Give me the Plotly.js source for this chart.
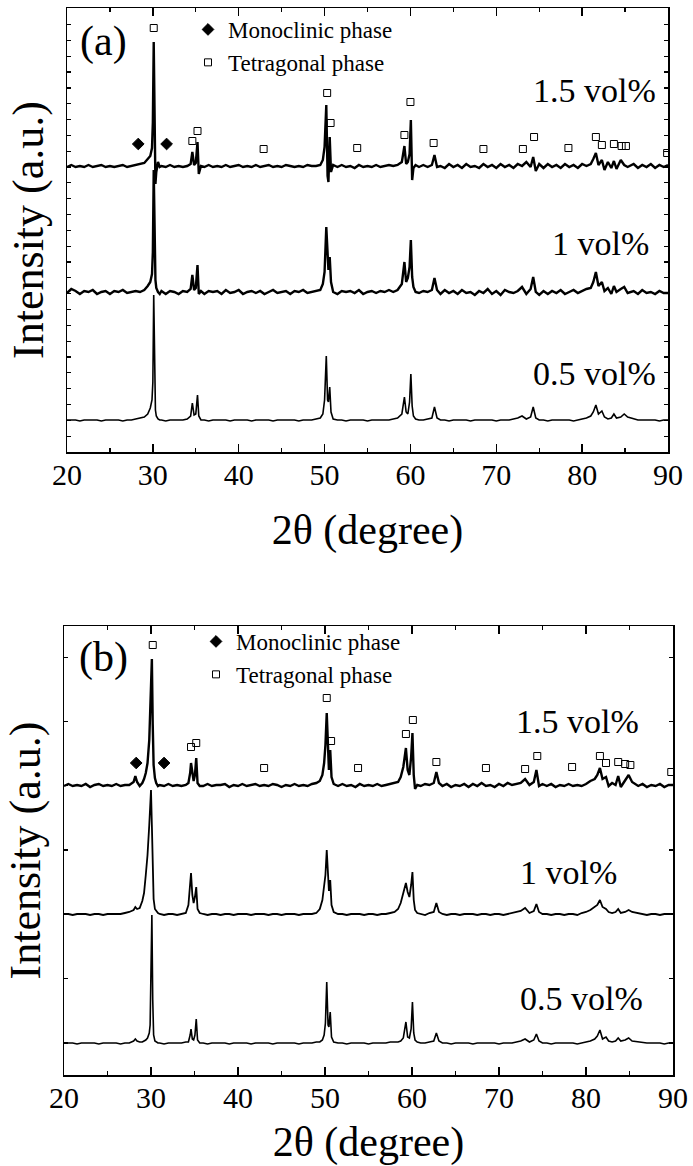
<!DOCTYPE html>
<html>
<head>
<meta charset="utf-8">
<script src="https://cdn.plot.ly/plotly-3.0.1.min.js"></script>
<style>html,body{margin:0;padding:0;background:#fff;}#chart{width:693px;height:1166px;}</style>
</head>
<body>
<div id="chart"></div>
<script>
// ---------- Panel (a) ----------
const xa = [20,20.5,21,21.5,22,22.5,23,23.5,24,24.5,25,25.5,26,26.5,27,27.5,28,28.5,29,
  29.4,29.7,29.9,30.0,30.1,30.2,30.3,30.4,30.6,30.8,
  31,31.5,32,32.5,33,33.5,34,
  34.4,34.6,34.8,35.0,35.2,35.35,35.6,
  36,36.5,37,37.5,38,38.5,39,39.5,40,40.5,41,41.5,42,42.5,43,43.5,44,44.5,45,45.5,46,46.5,47,47.5,48,48.5,49,49.5,
  49.8,50.0,50.2,50.35,50.45,50.6,50.75,51.0,
  51.5,52,52.5,53,53.5,54,54.5,55,55.5,56,56.5,57,57.5,58,58.5,
  59.0,59.3,59.5,59.7,59.9,60.05,60.2,60.35,60.6,
  61,61.5,62,62.5,
  62.8,63.1,
  63.5,64,64.5,65,65.5,66,66.5,67,67.5,68,68.5,69,69.5,70,70.5,71,71.5,72,72.5,
  73.0,73.5,74.0,74.3,74.6,75,
  75.5,76,76.5,77,77.5,78,78.5,79,79.5,80,80.5,81,
  81.3,81.6,81.9,82.3,82.6,83.0,83.4,83.7,84.0,84.5,84.9,85.3,
  86,86.5,87,87.5,88,88.5,89,89.5,90];

const a_05 = [32,32,32,31,32,32,32,32,31,32,32,32,32,31,32,32,33,34,35,
  38,44,52,70,157,95,42,36,33,32,
  32,31,32,32,32,32,33,
  36,49,37,38,57,36,32,
  32,31,32,32,32,32,31,32,32,32,32,31,32,32,32,32,31,32,32,32,32,32,31,32,32,32,33,34,
  38,52,96,52,50,65,40,33,
  32,32,31,32,32,32,32,31,32,32,32,32,32,33,34,
  38,55,40,38,50,78,46,36,33,
  32,32,33,34,
  45,34,
  32,32,31,32,32,32,32,31,32,32,32,32,32,31,32,32,32,33,34,
  36,33,35,45,34,32,
  32,31,32,32,32,32,32,31,32,33,34,36,
  40,47,38,41,35,33,34,38,34,35,38,35,
  33,32,32,32,32,32,31,32,32];

const a_10 = [159,163,161,158,161,160,162,158,160,161,158,161,160,162,159,160,161,160,162,
  166,170,178,200,282,200,172,164,160,158,
  161,158,161,160,158,161,160,
  163,177,162,164,187,158,161,
  158,161,160,161,158,162,159,160,162,158,160,161,159,161,158,160,162,159,160,161,158,161,160,162,159,160,161,162,
  168,180,225,188,182,195,170,160,
  158,161,160,161,159,162,158,160,161,159,161,160,162,160,162,
  168,190,170,174,185,212,175,165,160,
  159,161,160,162,
  174,162,
  158,162,159,161,158,162,159,160,157,161,159,163,158,161,157,162,160,159,161,
  165,158,163,175,160,157,
  161,158,161,159,162,158,160,162,159,161,163,164,
  170,180,166,170,161,164,158,166,160,163,165,159,
  161,158,162,159,160,158,161,159,159];

const a_15 = [285,287,285,286,285,287,285,286,287,285,286,285,286,287,285,286,287,288,289,
  293,296,304,330,410,300,268,280,290,285,
  286,285,287,285,286,285,286,
  288,300,287,289,310,278,286,
  285,287,285,286,285,287,285,286,287,285,286,285,287,285,286,287,285,286,285,287,286,285,286,285,287,286,286,287,
  292,305,347,276,270,315,280,287,
  285,287,285,286,284,287,285,286,285,287,285,286,287,286,287,
  290,306,288,290,298,332,272,284,287,
  285,287,285,287,
  297,285,
  286,284,288,285,287,284,288,285,286,284,288,285,287,284,288,285,287,284,288,
  286,290,285,295,281,288,
  284,288,285,287,284,288,285,287,284,288,286,288,
  293,299,287,292,282,290,284,291,283,292,287,285,
  288,284,287,285,288,284,287,285,287];

const a_mono_x = [28.3, 31.6];
const a_mono_y = [308, 308];
const a_tet_x = [30.1,34.6,35.2,42.9,50.3,50.7,53.8,59.3,60.0,62.7,68.5,73.1,74.4,78.4,81.6,82.3,83.7,84.6,85.1,89.9];
const a_tet_y = [424,311,321,303,359,329,304,317,350,309,303,303,315,304,315,307,308,306,306,299];

// ---------- Panel (b) ----------
const xb = [20,20.5,21,21.5,22,22.5,23,23.5,24,24.5,25,25.5,26,26.5,27,27.5,
  28.0,28.2,28.4,28.7,29.0,29.2,29.4,29.6,29.8,29.9,30.0,30.1,30.2,30.3,30.45,30.6,30.8,
  31,31.5,32,32.5,33,33.5,34,
  34.3,34.5,34.6,34.75,34.9,35.05,35.2,35.35,35.6,
  36,36.5,37,37.5,38,38.5,39,39.5,40,40.5,41,41.5,42,42.5,43,43.5,44,44.5,45,45.5,46,46.5,47,47.5,48,48.5,49,
  49.4,49.7,49.9,50.05,50.2,50.35,50.45,50.6,50.75,51.0,
  51.5,52,52.5,53,53.5,54,54.5,55,55.5,56,56.5,57,57.5,58,
  58.4,58.7,59.0,59.3,59.5,59.7,59.9,60.05,60.2,60.35,60.6,
  61,61.5,62,62.5,
  62.8,63.1,
  63.5,64,64.5,65,65.5,66,66.5,67,67.5,68,68.5,69,69.5,70,70.5,71,71.5,72,72.5,
  73.0,73.5,74.0,74.3,74.6,75,
  75.5,76,76.5,77,77.5,78,78.5,79,79.5,80,80.5,81,
  81.3,81.6,81.9,82.3,82.6,83.0,83.4,83.7,84.0,84.5,84.9,85.3,
  86,86.5,87,87.5,88,88.5,89,89.5,90];

const b_05 = [32,32,32,31,32,32,32,32,31,32,32,32,32,31,32,32,
  34,36,34,33,33,34,35,37,42,50,90,160,75,40,34,33,32,
  32,31,32,32,32,32,33,
  33,40,46,36,35,40,56,35,32,
  32,31,32,32,32,32,31,32,32,32,32,31,32,32,32,32,31,32,32,32,32,32,31,32,32,32,33,
  33,35,40,52,93,50,48,63,38,33,
  32,32,31,32,32,32,32,31,32,32,32,32,33,33,
  33,34,37,53,38,37,46,73,42,35,33,
  32,32,33,34,
  42,34,
  32,32,31,32,32,32,32,31,32,32,32,32,32,31,32,32,32,33,34,
  36,33,35,41,34,32,
  32,31,32,32,32,32,32,31,32,33,34,36,
  39,45,36,38,34,33,34,37,34,35,37,34,
  33,32,32,32,32,32,31,32,32];

const b_10 = [161,161,160,161,161,161,160,161,161,160,161,161,161,161,162,163,
  165,168,166,167,174,182,200,220,250,268,285,250,200,176,166,164,162,
  161,160,161,161,160,161,162,
  170,192,202,180,172,178,188,166,162,
  161,160,161,161,160,161,161,160,161,161,161,160,161,161,161,160,161,161,160,161,161,161,160,161,161,161,162,
  166,175,192,200,225,190,184,195,170,163,
  161,161,160,161,161,161,160,161,161,160,161,161,162,163,
  166,172,182,192,183,178,190,203,175,165,162,
  161,160,162,163,
  172,163,
  161,160,161,161,160,161,161,161,160,161,161,160,161,161,160,161,162,163,164,
  167,162,164,171,163,161,
  161,160,161,161,160,161,161,160,162,163,165,168,
  170,175,168,166,163,162,163,166,162,163,165,163,
  162,161,160,161,161,160,161,161,161];

const b_15 = [289,291,289,290,289,291,288,290,291,289,290,289,291,289,290,290,
  293,299,293,289,292,296,302,312,335,360,400,416,350,310,297,292,289,
  290,289,291,289,290,289,290,
  292,302,312,300,294,300,317,292,289,
  289,291,289,290,290,291,288,290,289,291,289,290,291,289,290,289,291,290,288,290,289,291,289,290,289,291,292,
  294,300,312,330,362,315,305,325,298,291,
  289,291,289,290,288,291,289,290,289,291,289,290,291,292,
  293,298,308,327,305,300,318,342,300,286,290,
  289,291,290,292,
  303,292,
  289,291,288,290,289,291,288,291,289,292,289,290,288,291,289,292,290,291,292,
  296,290,293,305,289,291,
  289,291,288,290,289,291,289,290,289,291,294,296,
  300,307,296,298,289,292,290,299,288,294,300,293,
  289,291,288,290,289,291,288,290,290];

const b_mono_x = [28.3, 31.5];
const b_mono_y = [312, 312];
const b_tet_x = [30.2,34.6,35.2,43.0,50.2,50.7,53.8,59.3,60.1,62.8,68.5,73.0,74.4,78.4,81.6,82.3,83.7,84.5,85.1,89.8];
const b_tet_y = [430,328,332,307,377,334,307,341,355,313,307,306,319,308,319,312,313,311,310,303];

const xTickVals = [20,30,40,50,60,70,80,90];
const sampleLabels = ['1.5 vol%','1 vol%','0.5 vol%'];
const phaseNames = ['Monoclinic phase','Tetragonal phase'];

// ---------- Figure ----------
const W = 693, H = 1166;
const FONT = 'Liberation Serif, serif';
const px = v => v / W;
const py = v => 1 - v / H;

function lineTrace(x, y, xa_, ya_, w) {
  return {x: x, y: y, xaxis: xa_, yaxis: ya_, type: 'scatter', mode: 'lines',
          line: {color: '#000', width: w}, showlegend: false, hoverinfo: 'skip'};
}
function markTrace(x, y, xa_, ya_, name, sym, size, leg) {
  return {x: x, y: y, xaxis: xa_, yaxis: ya_, type: 'scatter', mode: 'markers', name: name,
          legend: leg, showlegend: true,
          marker: {symbol: sym, size: size, color: '#000', line: {color: '#000', width: 1}},
          cliponaxis: true, hoverinfo: 'skip'};
}

const data = [
  lineTrace(xa, a_05, 'x', 'y', 1.6),
  lineTrace(xa, a_10, 'x', 'y', 2.4),
  lineTrace(xa, a_15, 'x', 'y', 2.4),
  markTrace(a_mono_x, a_mono_y, 'x', 'y', phaseNames[0], 'diamond', 9, 'legend'),
  markTrace(a_tet_x, a_tet_y, 'x', 'y', phaseNames[1], 'square-open', 7, 'legend'),
  lineTrace(xb, b_05, 'x2', 'y2', 1.6),
  lineTrace(xb, b_10, 'x2', 'y2', 1.8),
  lineTrace(xb, b_15, 'x2', 'y2', 2.4),
  markTrace(b_mono_x, b_mono_y, 'x2', 'y2', phaseNames[0], 'diamond', 9, 'legend2'),
  markTrace(b_tet_x, b_tet_y, 'x2', 'y2', phaseNames[1], 'square-open', 7, 'legend2')
];

function xAxis(domain, anchor, standoff) {
  return {domain: domain, anchor: anchor, range: [20, 90], tickvals: xTickVals,
    ticks: 'inside', ticklen: 8, tickwidth: 1.5, tickcolor: '#000',
    ticklabelstandoff: -5,
    minor: {dtick: 5, tick0: 20, ticks: 'inside', ticklen: 4, tickwidth: 1.2, tickcolor: '#000', showgrid: false},
    showline: true, linewidth: 1.5, linecolor: '#000', mirror: 'ticks',
    showgrid: false, zeroline: false, automargin: false,
    tickfont: {family: FONT, size: 30, color: '#000'},
    title: {text: '2θ (degree)', font: {family: FONT, size: 42, color: '#000'}, standoff: standoff}};
}
function yAxis(domain, anchor, top, dt, t0) {
  return {domain: domain, anchor: anchor, range: [0, top], tick0: t0, dtick: dt,
    ticks: 'inside', ticklen: 4, tickwidth: 1.2, tickcolor: '#000', showticklabels: false,
    showline: true, linewidth: 1.5, linecolor: '#000', mirror: 'ticks',
    showgrid: false, zeroline: false, automargin: false,
    title: {text: 'Intensity (a.u.)', font: {family: FONT, size: 44, color: '#000'}, standoff: 8}};
}

function ann(text, x, y, size) {
  return {text: text, xref: 'paper', yref: 'paper', x: px(x), y: py(y),
          xanchor: 'center', yanchor: 'middle', showarrow: false,
          font: {family: FONT, size: size, color: '#000'}};
}

const legendBase = {xanchor: 'left', yanchor: 'top', bgcolor: 'rgba(0,0,0,0)', borderwidth: 0,
  font: {family: FONT, size: 23, color: '#000'}, itemwidth: 30, tracegroupgap: 0};

const layout = {
  width: W, height: H,
  margin: {l: 0, r: 0, t: 0, b: 0, pad: 0},
  paper_bgcolor: '#fff', plot_bgcolor: '#fff',
  font: {family: FONT, color: '#000'},
  showlegend: true,
  xaxis: xAxis([67 / W, 668 / W], 'y', 25),
  yaxis: yAxis([py(452), py(8)], 'x', 444, 15.83, 0),
  xaxis2: xAxis([64 / W, 673 / W], 'y2', 14),
  yaxis2: yAxis([py(1075), py(626)], 'x2', 449, 64.3, 32),
  legend: Object.assign({x: px(188), y: py(8)}, legendBase),
  legend2: Object.assign({x: px(196), y: py(620)}, legendBase),
  annotations: [
    ann('(a)', 103, 41, 42),
    ann(sampleLabels[0], 594, 90, 34),
    ann(sampleLabels[1], 600, 243, 34),
    ann(sampleLabels[2], 594, 373, 34),
    ann('(b)', 103, 657, 42),
    ann(sampleLabels[0], 577, 721, 34),
    ann(sampleLabels[1], 568, 872, 34),
    ann(sampleLabels[2], 581, 998, 34)
  ]
};

Plotly.newPlot('chart', data, layout, {staticPlot: true, displayModeBar: false});
</script>
</body>
</html>
